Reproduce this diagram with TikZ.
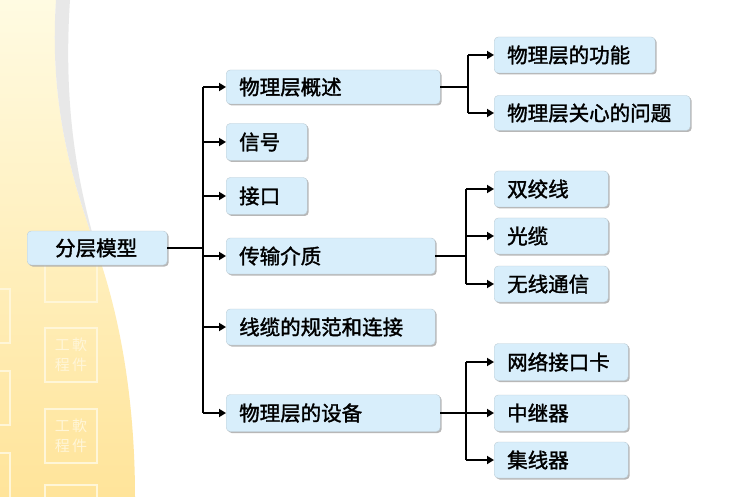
\documentclass[tikz,border=0pt]{standalone}
\usepackage{fontspec}
\newfontfamily\cjk[FakeBold=1.6]{Noto Sans CJK SC}
\newfontfamily\cjkw{Noto Sans CJK SC}
\usetikzlibrary{arrows.meta,shadows}
\definecolor{boxfill}{HTML}{D8EEFB}
\definecolor{creamtop}{HTML}{FFFBE2}
\definecolor{creambot}{HTML}{FFE49A}
\definecolor{wm}{HTML}{FFF6D8}
\tikzset{
  topic/.style={draw=boxfill!70!gray, line width=0.4pt, fill=boxfill, rounded corners=4pt,
    minimum height=34pt, anchor=west, inner xsep=13pt, text=black, align=left,
    font=\cjk\fontsize{20.5}{20.5}\selectfont,
    drop shadow={shadow xshift=1.5pt, shadow yshift=-1.5pt, fill=gray!70, opacity=0.8}},
  link/.style={line width=2.2pt, black},
  arr/.style={line width=2.2pt, black, -{Triangle[length=7pt,width=8pt]}},
  wmbox/.style={draw=wm, line width=1.2pt, fill=none, minimum width=52pt, minimum height=54pt,
    text=wm, font=\cjkw\fontsize{15}{20}\selectfont, align=center},
}
\begin{document}
\begin{tikzpicture}[x=1pt,y=-1pt]
\useasboundingbox (0,0) rectangle (752,497);
% background
\fill[white] (0,0) rectangle (752,497);
\shade[top color=creamtop, bottom color=creambot]
  (0,0) -- (56,0) .. controls (48,120) and (80,200) .. (100,260)
  .. controls (120,320) and (135,400) .. (135,497) -- (0,497) -- cycle;
\fill[gray!18] (56,0) .. controls (48,120) and (80,200) .. (100,260)
  .. controls (82,200) and (62,120) .. (70,0) -- cycle;
% watermark
\node[wmbox] (w1) at (71,275) {};
\node[wmbox] (w2) at (71,355) {工\,軟\\程\,件};
\node[wmbox] (w3) at (71,436) {工\,軟\\程\,件};
\node[wmbox] (w4) at (71,512) {};
\foreach \yy in {316,398,480} {
  \node[draw=wm, line width=1.2pt, minimum width=30pt, minimum height=54pt] (l\yy) at (-5,\yy) {};
}
% nodes
\node[topic, text width=84pt, inner xsep=28pt] (root) at (27,248) {分层模型};
\node[topic, text width=188pt] (a) at (226,87) {物理层概述};
\node[topic, text width=55pt, minimum height=37pt] (b) at (226,142) {信号};
\node[topic, text width=55pt, minimum height=37pt] (c) at (226,196) {接口};
\node[topic, text width=183pt, minimum height=36pt] (d) at (226,256) {传输介质};
\node[topic, text width=183pt, minimum height=36pt] (e) at (226,327) {线缆的规范和连接};
\node[topic, text width=188pt, minimum height=37pt] (f) at (226,413) {物理层的设备};
\node[topic, text width=135pt, minimum height=36pt] (a1) at (494,55) {物理层的功能};
\node[topic, text width=170pt, minimum height=35pt] (a2) at (494,113) {物理层关心的问题};
\node[topic, text width=88pt, minimum height=36pt] (d1) at (494,189) {双绞线};
\node[topic, text width=88pt, minimum height=36pt] (d2) at (494,236) {光缆};
\node[topic, text width=88pt, minimum height=36pt] (d3) at (494,284) {无线通信};
\node[topic, text width=108pt, minimum height=37pt] (f1) at (494,362) {网络接口卡};
\node[topic, text width=108pt, minimum height=36pt] (f2) at (494,413) {中继器};
\node[topic, text width=108pt, minimum height=36pt] (f3) at (494,460) {集线器};
% connectors
\coordinate (t) at (203,248);
\draw[link] (root.east) -- (t);
\draw[link] (203,87) -- (203,413);
\foreach \n in {a,b,c,d,e,f} {
  \draw[arr] (t |- \n.west) -- (\n.west);
}
\coordinate (ta) at (468,87);
\draw[link] (a.east) -- (ta);
\draw[link] (468,55) -- (468,113);
\foreach \n in {a1,a2} { \draw[arr] (ta |- \n.west) -- (\n.west); }
\coordinate (td) at (466,256);
\draw[link] (d.east) -- (td);
\draw[link] (466,189) -- (466,284);
\foreach \n in {d1,d2,d3} { \draw[arr] (td |- \n.west) -- (\n.west); }
\coordinate (tf) at (466,413);
\draw[link] (466,362) -- (466,460);
\draw[arr] (f.east) -- (f2.west);
\foreach \n in {f1,f3} { \draw[arr] (tf |- \n.west) -- (\n.west); }
\end{tikzpicture}
\end{document}
